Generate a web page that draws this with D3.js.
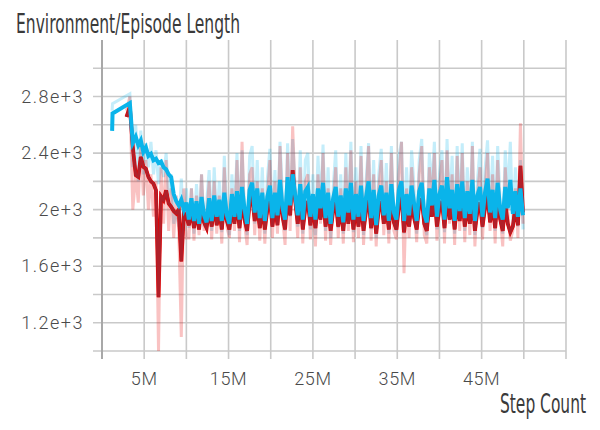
<!DOCTYPE html>
<html>
<head>
<meta charset="utf-8">
<script src="https://cdn.jsdelivr.net/npm/d3@7"></script>
<style>
  body { margin: 0; background: #fff; }
  .tick-label { font-family: Roboto, "Liberation Sans", sans-serif; font-weight: 300; font-size: 18px; fill: #4a4a4a; }
  .title { font-family: "Liberation Sans Narrow", "DejaVu Sans Condensed", sans-serif; font-size: 26px; fill: #3a3a3a; }
</style>
</head>
<body>
<svg id="chart"></svg>
<script>
const containerWidth  = 600;
const containerHeight = 430;

// steps in millions; after 4M the runs log every 0.3M
const loggingStart = 4.0;
const loggingInterval = 0.3;

const blueEarlySteps = [1.2, 1.25, 3.3, 3.65];
const blueEarlyRaw = [2700, 2750, 2820, 2300];
const blueEarlySmooth = [2557, 2680, 2754, 2472];

const redEarlySteps = [2.9, 3.3, 3.65];
const redEarlyRaw = [2700, 2800, 2000];
const redEarlySmooth = [2656, 2727, 2444];

const blueSmooth = [
  2515, 2456, 2490, 2408, 2440, 2380, 2395, 2349, 2360, 2330,
  2340, 2300, 2285, 2250, 2230, 2110, 2060, 2030, 2070, 2000, 2050,
  1930, 2080, 1920, 2060, 1900, 2090, 1960, 1910, 2080, 1920,
  2100, 1950, 2070, 1920, 2120, 1960, 1900, 2110, 1950, 2130,
  1930, 2160, 2000, 1900, 2140, 2190, 1980, 2150, 1940, 2120,
  1920, 2090, 2170, 1940, 2120, 1960, 2210, 2010, 1930, 2230,
  2030, 2250, 2100, 1960, 2180, 1930, 2130, 2160, 1950, 2110,
  1930, 2150, 2010, 2190, 1940, 2120, 1900, 2080, 2160, 1950,
  2100, 1910, 2150, 1980, 2190, 1930, 2110, 1950, 2170, 1920,
  2090, 2200, 1940, 2140, 1890, 2100, 2170, 1960, 2120, 1920,
  2180, 1980, 1930, 2140, 2200, 1920, 2110, 1960, 2170, 2040,
  1920, 2130, 2190, 1970, 1910, 2150, 2030, 2210, 1950, 2110,
  2170, 1930, 2230, 2010, 2140, 1920, 2180, 1990, 2200, 1940,
  2130, 1970, 2210, 1920, 2100, 2160, 1950, 2120, 2220, 1980,
  2140, 1940, 2190, 2000, 1930, 2160, 2010, 2210, 1970, 2130,
  1950, 2150, 1960
];

const blueRaw = [
  2600, 2200, 2560, 2250, 2470, 2300, 2480, 2250, 2420, 2180,
  2350, 2230, 2400, 2100, 2250, 1900, 2000, 1880, 2220, 1850, 2150,
  1870, 2150, 1830, 2180, 1900, 2250, 1880, 2050, 2280, 1850,
  2300, 1900, 2200, 1840, 2380, 1950, 1820, 2250, 1950, 2400,
  1850, 2420, 1980, 1820, 2380, 2450, 1900, 2350, 1870, 2300,
  1830, 2220, 2430, 1880, 2280, 1900, 2480, 2100, 1850, 2470,
  1950, 2500, 2150, 1880, 2420, 1830, 2350, 2400, 1860, 2250,
  1820, 2380, 2000, 2460, 1850, 2300, 1800, 2150, 2420, 1870,
  2250, 1830, 2400, 1950, 2480, 1840, 2300, 1880, 2450, 1820,
  2200, 2470, 1860, 2350, 1800, 2250, 2430, 1900, 2330, 1830,
  2450, 1920, 1850, 2380, 2480, 1830, 2300, 1900, 2420, 2150,
  1830, 2350, 2500, 1900, 1820, 2400, 2150, 2480, 1860, 2250,
  2420, 1840, 2500, 2000, 2380, 1830, 2450, 1950, 2470, 1850,
  2300, 1900, 2480, 1820, 2200, 2430, 1870, 2280, 2490, 1950,
  2380, 1850, 2450, 2050, 1830, 2420, 2100, 2480, 1900, 2300,
  1880, 2350, 1860
];

const redSmooth = [
  2244, 2232, 2373, 2303, 2290, 2232, 2200, 2184, 2137, 1380,
  2093, 2067, 2137, 2044, 2020, 1990, 1973, 2000, 1633, 1975, 1950,
  1890, 2010, 1870, 1990, 1860, 2030, 1910, 1870, 2010, 1880,
  2030, 1890, 2000, 1860, 2050, 1920, 1860, 2020, 1900, 2060,
  1870, 2070, 1930, 1850, 2050, 2100, 1920, 2040, 1870, 2020,
  1860, 2000, 2080, 1880, 2030, 1890, 2130, 1950, 1860, 2140,
  1960, 2280, 2060, 1900, 2090, 1860, 2010, 2060, 1890, 2020,
  1870, 2050, 1930, 2090, 1880, 2020, 1850, 1990, 2060, 1880,
  2010, 1850, 2050, 1900, 2080, 1860, 2020, 1880, 2070, 1850,
  1990, 2090, 1870, 2030, 1830, 2000, 2060, 1900, 2020, 1860,
  2070, 1910, 1860, 2030, 2090, 1840, 2010, 1880, 2060, 1940,
  1860, 2030, 2080, 1900, 1850, 2040, 1950, 2100, 1880, 2010,
  2060, 1870, 2120, 1930, 2040, 1860, 2070, 1920, 2080, 1880,
  2030, 1900, 2090, 1850, 1990, 2050, 1880, 2010, 2100, 1910,
  2040, 1870, 2080, 1930, 1850, 2040, 1900, 1840, 1880, 2020,
  1890, 2310, 1980
];

const redRaw = [
  2250, 2050, 2480, 2100, 2350, 2000, 2250, 1950, 2200, 1000,
  2300, 1900, 2350, 1850, 2150, 1800, 2100, 1850, 1100, 2150, 1800,
  1800, 2150, 1780, 2100, 1820, 2250, 1850, 1950, 2200, 1790,
  2200, 1830, 2100, 1760, 2300, 1880, 1800, 2150, 1850, 2350,
  1770, 2480, 1900, 1750, 2250, 2300, 1820, 2200, 1780, 2150,
  1760, 2100, 2350, 1800, 2200, 1830, 2450, 1950, 1750, 2400,
  1850, 2590, 2100, 1800, 2300, 1760, 2200, 2250, 1790, 2100,
  1740, 2250, 1900, 2400, 1780, 2150, 1750, 2050, 2300, 1800,
  2150, 1760, 2300, 1850, 2420, 1770, 2200, 1800, 2380, 1750,
  2100, 2450, 1780, 2250, 1740, 2150, 2350, 1820, 2200, 1760,
  2400, 1850, 1790, 2250, 2480, 1550, 2150, 1800, 2300, 2050,
  1770, 2250, 2450, 1820, 1760, 2300, 2050, 2400, 1780, 2150,
  2350, 1760, 2420, 1900, 2250, 1750, 2380, 1850, 2400, 1770,
  2200, 1820, 2450, 1740, 2100, 2300, 1790, 2150, 2400, 1850,
  2250, 1760, 2350, 1950, 1740, 2300, 1980, 1780, 1850, 2150,
  1800, 2610, 1900
];

const yTickValues = [1200, 1600, 2000, 2400, 2800];
const xTickValues = [5, 15, 25, 35, 45];

const svg = d3.select("#chart")
              .attr("width", containerWidth)
              .attr("height", containerHeight);

const xScale = d3.scaleLinear().domain([0, 55]).range([102, 566]);
const yScale = d3.scaleLinear().domain([1000, 3200]).range([351, 40]);

const toPoints = (earlySteps, earlyValues, values) =>
  earlySteps.map((s, i) => [s, earlyValues[i]])
    .concat(values.map((v, i) => [loggingStart + loggingInterval * i, v]));

// grid
svg.append("g")
  .selectAll("line")
  .data(d3.range(1000, 3001, 200))
  .join("line")
  .attr("x1", 93).attr("x2", xScale(55))
  .attr("y1", d => yScale(d)).attr("y2", d => yScale(d))
  .attr("stroke", "#c9c9c9").attr("stroke-width", 1.6);

svg.append("g")
  .selectAll("line")
  .data(d3.range(5, 56, 5))
  .join("line")
  .attr("x1", d => xScale(d)).attr("x2", d => xScale(d))
  .attr("y1", yScale(3200)).attr("y2", yScale(1000) + 8)
  .attr("stroke", "#c9c9c9").attr("stroke-width", 1.6);

svg.append("line")
  .attr("x1", xScale(0)).attr("x2", xScale(0))
  .attr("y1", yScale(3200)).attr("y2", yScale(1000) + 8)
  .attr("stroke", "#a8a8a8").attr("stroke-width", 2);

// axis labels
svg.append("g")
  .selectAll("text")
  .data(yTickValues)
  .join("text")
  .attr("class", "tick-label")
  .attr("x", 84)
  .attr("y", d => yScale(d))
  .attr("dy", "0.35em")
  .attr("text-anchor", "end")
  .style("letter-spacing", "1.5px")
  .text(d => (d / 1000) + "e+3");

svg.append("g")
  .selectAll("text")
  .data(xTickValues)
  .join("text")
  .attr("class", "tick-label")
  .attr("x", d => xScale(d))
  .attr("y", 385)
  .attr("text-anchor", "middle")
  .style("letter-spacing", "0.6px")
  .text(d => d + "M");

// lines
const line = d3.line().x(d => xScale(d[0])).y(d => yScale(d[1]));

const drawLine = (points, color, width, opacity) =>
  svg.append("path")
    .datum(points)
    .attr("d", line)
    .attr("fill", "none")
    .attr("stroke", color)
    .attr("stroke-width", width)
    .attr("stroke-opacity", opacity)
    .attr("stroke-linejoin", "miter");

drawLine(toPoints(blueEarlySteps, blueEarlyRaw, blueRaw), "#0ab4ea", 3, 0.24);
drawLine(toPoints(redEarlySteps, redEarlyRaw, redRaw), "#e80000", 3, 0.24);
drawLine(toPoints(redEarlySteps, redEarlySmooth, redSmooth), "#e60000", 3.8, 1);
drawLine(toPoints(redEarlySteps, redEarlySmooth, redSmooth), "#b0202a", 2.8, 1);
drawLine(toPoints(blueEarlySteps, blueEarlySmooth, blueSmooth), "#0ab4ea", 4, 1);

// titles
svg.append("text")
  .attr("class", "title")
  .attr("x", 16).attr("y", 33)
  .attr("textLength", 224).attr("lengthAdjust", "spacingAndGlyphs")
  .text("Environment/Episode Length");

svg.append("text")
  .attr("class", "title")
  .attr("x", 500).attr("y", 413)
  .attr("textLength", 86).attr("lengthAdjust", "spacingAndGlyphs")
  .text("Step Count");
</script>
</body>
</html>
